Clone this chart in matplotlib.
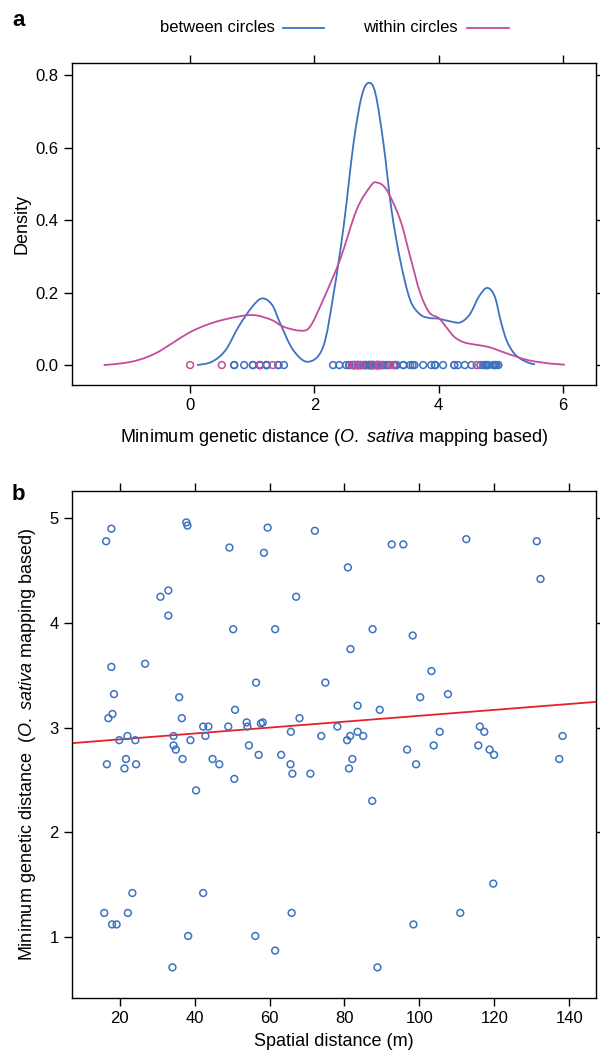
import numpy as np
import matplotlib.pyplot as plt
from matplotlib.lines import Line2D
from matplotlib.path import Path
from matplotlib.patches import PathPatch

plt.rcParams['font.family'] = ['Liberation Sans', 'DejaVu Sans']
plt.rcParams['mathtext.fontset'] = 'custom'
plt.rcParams['mathtext.rm'] = 'Liberation Sans'
plt.rcParams['mathtext.it'] = 'Liberation Sans:italic'

# panel a: density curves
between_x = [0.11, 0.35, 0.57, 0.78, 1.0, 1.16, 1.32, 1.45, 1.66, 1.90, 2.14, 2.31, 2.47,
             2.63, 2.76, 2.87, 2.98, 3.11, 3.24, 3.38, 3.54, 3.7, 3.85, 4.0, 4.2, 4.35,
             4.5, 4.65, 4.78, 4.9, 5.0, 5.09, 5.2, 5.31, 5.45, 5.55]
between_y = [0.0, 0.009, 0.041, 0.106, 0.161, 0.184, 0.166, 0.115, 0.041, 0.009, 0.05, 0.198, 0.383,
             0.613, 0.742, 0.779, 0.751, 0.613, 0.429, 0.29, 0.18, 0.14, 0.13, 0.128, 0.12, 0.118,
             0.14, 0.19, 0.213, 0.19, 0.12, 0.069, 0.035, 0.018, 0.006, 0.002]
within_x = [-1.39, -1.09, -0.83, -0.56, -0.29, -0.02, 0.25, 0.51, 0.78, 0.94, 1.10, 1.32, 1.50,
            1.77, 1.93, 2.14, 2.41, 2.68, 2.90, 3.00, 3.16, 3.38, 3.54, 3.7, 3.85, 4.0, 4.12,
            4.25, 4.4, 4.6, 4.8, 5.0, 5.25, 5.45, 5.63, 5.8, 6.03]
within_y = [0.0, 0.005, 0.014, 0.032, 0.06, 0.089, 0.11, 0.124, 0.134, 0.138, 0.136, 0.124, 0.106,
            0.095, 0.106, 0.18, 0.29, 0.429, 0.493, 0.504, 0.484, 0.401, 0.30, 0.2, 0.145, 0.13, 0.105,
            0.078, 0.063, 0.056, 0.05, 0.038, 0.023, 0.013, 0.008, 0.004, 0.001]
within_rug = [0.0, 0.51, 1.13, 1.33, 2.60, 2.64, 2.71, 2.76, 2.95, 3.03, 3.06, 3.22, 3.27, 4.61]

# panel b: spatial distance (m) vs minimum genetic distance
spatial = [17.8, 16.4, 37.8, 38.1, 49.3, 33.0, 30.9, 33.0, 50.3, 17.8, 26.8, 56.4, 18.5, 35.9,
           50.8, 18.1, 17.0, 36.6, 53.9, 54.1, 42.3, 43.7, 49.0, 57.7, 22.1, 19.9, 24.2, 34.4,
           42.9, 38.9, 34.4, 35.0, 54.5, 57.1, 21.7, 36.8, 44.8, 16.6, 24.4, 46.6, 21.3, 50.6,
           40.4, 23.4, 42.3, 15.9, 22.2, 18.0, 19.2, 38.3, 56.2, 34.1,
           59.5, 72.1, 58.5, 92.6, 95.7, 80.9, 67.1, 61.5, 87.5, 98.2, 81.6, 74.9, 83.5, 89.4,
           100.2, 68.0, 58.2, 65.7, 78.1, 73.8, 81.5, 83.5, 85.0, 80.7, 63.1, 65.6, 96.7, 82.1,
           99.1, 81.2, 66.1, 70.9, 87.4, 65.9, 61.5, 88.8, 98.4,
           112.5, 131.3, 132.3, 103.2, 107.6, 105.4, 116.1, 117.3, 103.8, 115.7, 118.7, 119.9,
           138.2, 137.3, 119.7, 110.9]
genetic = [4.90, 4.78, 4.96, 4.93, 4.72, 4.31, 4.25, 4.07, 3.94, 3.58, 3.61, 3.43, 3.32, 3.29,
           3.17, 3.13, 3.09, 3.09, 3.05, 3.01, 3.01, 3.01, 3.01, 3.04, 2.92, 2.88, 2.88, 2.92,
           2.92, 2.88, 2.83, 2.79, 2.83, 2.74, 2.70, 2.70, 2.70, 2.65, 2.65, 2.65, 2.61, 2.51,
           2.40, 1.42, 1.42, 1.23, 1.23, 1.12, 1.12, 1.01, 1.01, 0.71,
           4.91, 4.88, 4.67, 4.75, 4.75, 4.53, 4.25, 3.94, 3.94, 3.88, 3.75, 3.43, 3.21, 3.17,
           3.29, 3.09, 3.05, 2.96, 3.01, 2.92, 2.92, 2.96, 2.92, 2.88, 2.74, 2.65, 2.79, 2.70,
           2.65, 2.61, 2.56, 2.56, 2.30, 1.23, 0.87, 0.71, 1.12,
           4.80, 4.78, 4.42, 3.54, 3.32, 2.96, 3.01, 2.96, 2.83, 2.83, 2.79, 2.74,
           2.92, 2.70, 1.51, 1.23]
fit_intercept = 2.831
fit_slope = 0.00282

blue = '#3d72c0'
pink = '#c64b9b'


def smooth_line(ax, xs, ys, color):
    # draw the read points as a smooth bezier path (catmull-rom control points)
    p = np.column_stack([xs, ys])
    p = np.vstack([p[0], p, p[-1]])
    verts = [p[1]]
    codes = [Path.MOVETO]
    for i in range(1, len(p) - 2):
        c1 = p[i] + (p[i + 1] - p[i - 1]) / 6
        c2 = p[i + 1] - (p[i + 2] - p[i]) / 6
        verts += [c1, c2, p[i + 1]]
        codes += [Path.CURVE4] * 3
    ax.add_patch(PathPatch(Path(verts, codes), fill=False, edgecolor=color, lw=1.3))


fig = plt.figure(figsize=(6, 10.53), dpi=100)
ax1 = fig.add_axes([0.12, 0.6344, 0.8733, 0.3058])
ax2 = fig.add_axes([0.12, 0.0522, 0.8733, 0.4815])

# panel a
smooth_line(ax1, between_x, between_y, blue)
ax1.scatter(genetic, np.zeros(len(genetic)), s=24, facecolors='none', edgecolors=blue, linewidths=1.1)
smooth_line(ax1, within_x, within_y, pink)
ax1.scatter(within_rug, np.zeros(len(within_rug)), s=24, facecolors='none', edgecolors=pink, linewidths=1.1)
ax1.set_xlim(-1.9, 6.53)
ax1.set_ylim(-0.055, 0.834)
ax1.set_xticks([0, 2, 4, 6])
ax1.set_yticks([0.0, 0.2, 0.4, 0.6, 0.8])
ax1.set_yticklabels(['0.0', '0.2', '0.4', '0.6', '0.8'])
ax1.set_ylabel('Density', fontsize=13, labelpad=4)
ax1.set_xlabel('Minimum genetic distance ($\\it{O.\\ sativa}$ mapping based)', fontsize=13, labelpad=10)

# panel b
ax2.scatter(spatial, genetic, s=24, facecolors='none', edgecolors=blue, linewidths=1.1, zorder=3)
ax2.axline((0, fit_intercept), slope=fit_slope, color='#e8202a', lw=1.3, zorder=2)
ax2.set_xlim(7.3, 147.1)
ax2.set_ylim(0.417, 5.26)
ax2.set_xticks([20, 40, 60, 80, 100, 120, 140])
ax2.set_yticks([1, 2, 3, 4, 5])
ax2.set_xlabel('Spatial distance (m)', fontsize=13, labelpad=5)
ax2.set_ylabel('Minimum genetic distance  ($\\it{O.\\ sativa}$ mapping based)', fontsize=13, labelpad=8)

for ax in (ax1, ax2):
    ax.tick_params(direction='out', length=6, width=1, labelsize=12, top=True, right=True)
    for sp in ax.spines.values():
        sp.set_linewidth(1)

# legend on top
fig.text(275 / 600, 1 - 28 / 1053, 'between circles', ha='right', va='center', fontsize=12)
fig.text(458 / 600, 1 - 28 / 1053, 'within circles', ha='right', va='center', fontsize=12)
fig.add_artist(Line2D([283 / 600, 324 / 600], [1 - 28 / 1053] * 2, color=blue, lw=1.3))
fig.add_artist(Line2D([467 / 600, 509 / 600], [1 - 28 / 1053] * 2, color=pink, lw=1.3))

fig.text(12 / 600, 1 - 20 / 1053, 'a', fontsize=16, fontweight='bold', va='center')
fig.text(12 / 600, 1 - 494 / 1053, 'b', fontsize=16, fontweight='bold', va='center')

fig.savefig('out.png', dpi=100)
